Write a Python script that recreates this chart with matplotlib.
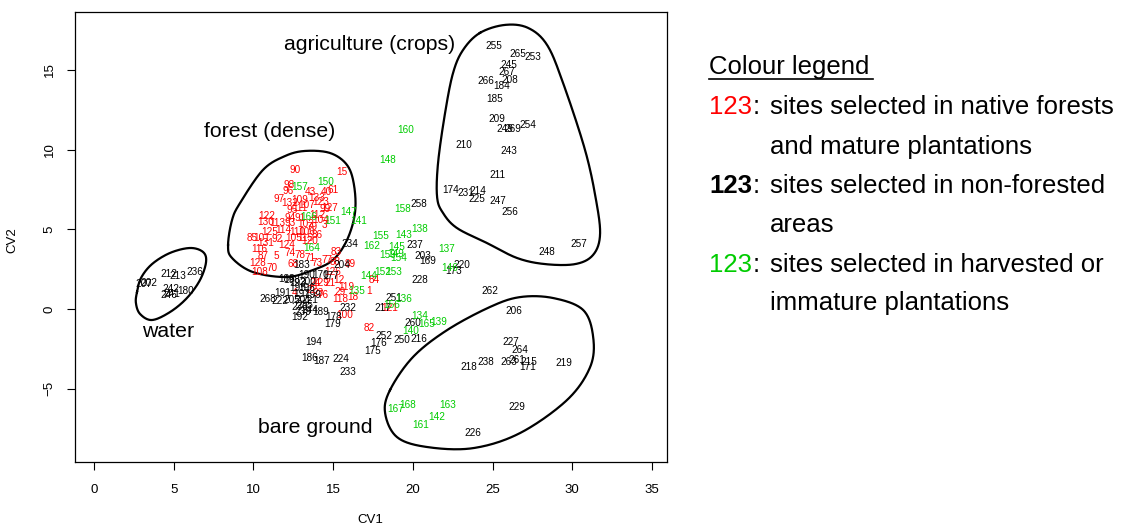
import numpy as np
import matplotlib
matplotlib.use("Agg")
from matplotlib import pyplot as plt
from matplotlib.lines import Line2D

plt.rcParams["font.family"] = ["Liberation Sans", "DejaVu Sans"]

# site labels and canonical variate scores
# red: native forests and mature plantations
red_lab = ["90", "15", "98", "96", "40", "61", "97", "43", "109", "133", "132", "107", "123",
           "127", "99", "95", "111", "122", "94", "91", "112", "104", "130", "113", "93", "102",
           "79", "3", "125", "114", "110", "106", "86", "85", "101", "92", "105", "115", "120",
           "116", "131", "124", "87", "5", "74", "78", "71", "128", "70", "108", "68", "73", "77",
           "83", "88", "89", "126", "12", "119", "18", "1", "118", "84", "100", "82", "24", "129",
           "21", "22", "23", "76", "29", "4", "121"]
red_x = [12.6, 15.55, 12.25, 12.2, 14.6, 15.0, 11.6, 13.55, 12.9, 14.0, 12.3, 13.35, 14.2,
         14.8, 14.5, 12.4, 12.9, 10.85, 12.3, 12.9, 14.0, 14.2, 10.75, 11.5, 12.3, 13.25,
         13.7, 14.45, 11.05, 11.85, 12.75, 13.35, 14.0, 9.95, 10.55, 11.5, 12.5, 13.25, 13.55,
         10.35, 10.75, 12.1, 10.6, 11.45, 12.3, 12.9, 13.55, 10.25, 11.15, 10.4, 12.5, 14.0, 14.6,
         15.2, 15.1, 16.05, 14.95, 15.35, 15.85, 16.25, 17.25, 15.45, 17.6, 15.7, 17.25, 13.85, 14.2,
         14.8, 13.7, 14.05, 14.35, 15.45, 12.55, 18.55]
red_y = [8.75, 8.6, 7.8, 7.4, 7.35, 7.5, 6.9, 7.35, 6.85, 6.95, 6.65, 6.55, 6.7,
         6.35, 6.3, 6.2, 6.35, 5.85, 5.7, 5.7, 5.9, 5.6, 5.45, 5.4, 5.4, 5.35,
         5.15, 5.25, 4.85, 4.95, 4.85, 4.85, 4.65, 4.45, 4.45, 4.4, 4.45, 4.45, 4.25,
         3.75, 4.15, 4.0, 3.3, 3.3, 3.5, 3.4, 3.2, 2.9, 2.55, 2.3, 2.8, 2.9, 3.1,
         3.6, 2.95, 2.8, 2.35, 1.85, 1.4, 0.75, 1.1, 0.6, 1.8, -0.35, -1.2, 1.65, 1.65,
         1.65, 1.2, 1.0, 0.9, 1.05, 1.0, 0.05]

# black: non-forested areas
blk_lab = ["255", "265", "253", "245", "267", "208", "266", "184", "185", "209", "249", "269",
           "254", "210", "243", "211", "174", "231", "214", "225", "247", "256", "257", "248",
           "212", "213", "236", "207", "202", "242", "180", "246", "241",
           "258", "234", "237", "203", "169", "220", "173", "228", "204", "262", "251", "217",
           "232", "178", "179", "260", "252", "250", "216", "176", "175", "194", "186", "187",
           "224", "233", "206", "227", "264", "261", "263", "215", "171", "219", "218", "238",
           "229", "226", "188", "193", "200", "190", "170", "177", "195", "196", "191", "197",
           "199", "268", "222", "205", "201", "221", "235", "230", "239", "244", "189", "192",
           "183", "198"]
blk_x = [25.1, 26.6, 27.5, 26.0, 25.9, 26.1, 24.6, 25.6, 25.1, 25.3, 25.8, 26.3,
         27.2, 23.2, 26.05, 25.3, 22.4, 23.3, 24.1, 24.0, 25.3, 26.1, 30.4, 28.4,
         4.7, 5.25, 6.3, 3.1, 3.45, 4.8, 5.75, 4.7, 4.9,
         20.35, 16.05, 20.15, 20.6, 20.95, 23.1, 22.55, 20.45, 15.55, 24.85, 18.8, 18.1,
         15.95, 15.0, 15.0, 20.0, 18.2, 19.3, 20.4, 17.85, 17.5, 13.8, 13.5, 14.3,
         15.5, 15.9, 26.35, 26.15, 26.7, 26.55, 26.05, 27.3, 27.2, 29.45, 23.5, 24.6,
         26.55, 23.75, 12.1, 12.8, 13.4, 13.35, 14.2, 14.85, 12.75, 13.35, 11.85, 13.05,
         13.7, 10.9, 11.65, 12.4, 13.1, 13.55, 13.25, 12.9, 13.1, 13.55, 14.2, 12.9,
         13.05, 12.4]
blk_y = [16.5, 16.0, 15.8, 15.3, 14.9, 14.4, 14.3, 14.0, 13.2, 11.9, 11.3, 11.3,
         11.55, 10.3, 9.9, 8.4, 7.5, 7.3, 7.4, 6.9, 6.8, 6.1, 4.1, 3.6,
         2.2, 2.1, 2.35, 1.55, 1.65, 1.25, 1.1, 0.9, 0.95,
         6.6, 4.05, 4.0, 3.3, 3.0, 2.75, 2.4, 1.8, 2.75, 1.1, 0.7, 0.05,
         0.05, -0.5, -0.95, -0.9, -1.7, -1.95, -1.85, -2.15, -2.65, -2.05, -3.05, -3.25,
         -3.15, -3.95, -0.15, -2.05, -2.6, -3.2, -3.35, -3.3, -3.65, -3.4, -3.65, -3.35,
         -6.15, -7.8, 1.9, 1.65, 1.7, 2.15, 2.15, 2.05, 1.3, 1.3, 1.0, 0.95,
         0.9, 0.65, 0.5, 0.55, 0.55, 0.55, 0.25, 0.1, -0.2, -0.05, -0.2, -0.5,
         2.75, 1.8]

# green: harvested or immature plantations
grn_lab = ["134", "165", "139", "140", "136", "156", "167", "168", "163", "142", "161",
           "158", "147", "141", "151", "138", "155", "143", "162", "145", "137", "159",
           "149", "154", "144", "152", "153", "135", "146", "164", "150", "157", "166",
           "160", "148"]
grn_x = [20.4, 20.85, 21.65, 19.85, 19.45, 18.65, 18.9, 19.7, 22.2, 21.5, 20.5,
         19.35, 16.0, 16.6, 14.95, 20.4, 18.0, 19.45, 17.4, 19.0, 22.1, 18.45,
         18.95, 19.1, 17.2, 18.1, 18.8, 16.5, 22.3, 13.65, 14.55, 12.9, 13.45,
         19.55, 18.4]
grn_y = [-0.45, -0.95, -0.8, -1.35, 0.6, 0.25, -6.3, -6.05, -6.0, -6.75, -7.25,
         6.3, 6.1, 5.55, 5.5, 5.0, 4.6, 4.65, 3.95, 3.9, 3.75, 3.4,
         3.45, 3.2, 2.1, 2.3, 2.3, 1.15, 2.6, 3.85, 8.0, 7.65, 5.8,
         11.25, 9.35]

# hand-drawn group outlines (CV1, CV2)
forest_x = [8.41, 8.66, 9.16, 10.6, 11.98, 13.24, 14.81, 15.87, 16.31, 16.37, 15.87, 14.99,
            13.74, 12.11, 9.97, 8.66]
forest_y = [4.02, 5.59, 6.65, 8.73, 9.6, 9.92, 9.79, 9.04, 7.78, 6.03, 4.33, 3.08,
            2.45, 2.01, 2.32, 3.2]
water_x = [2.7, 2.95, 3.64, 4.77, 6.02, 6.84, 7.03, 6.65, 5.83, 4.77, 3.64, 2.89, 2.63]
water_y = [1.07, 1.95, 2.82, 3.52, 3.83, 3.58, 2.95, 1.82, 0.69, -0.19, -0.69, -0.31, 0.38]
agri_x = [24.21, 23.15, 22.52, 22.02, 21.58, 21.52, 21.89, 22.77, 24.65, 26.54, 28.29, 30.18,
          31.3, 31.74, 31.49, 30.8, 29.42, 28.42, 27.23, 25.78]
agri_y = [17.33, 16.26, 14.81, 12.3, 9.17, 7.03, 6.03, 5.08, 4.14, 3.2, 2.82, 2.82,
          3.39, 4.65, 6.84, 9.98, 14.19, 16.57, 17.64, 17.83]
bare_x = [18.57, 20.01, 22.15, 24.84, 26.73, 28.8, 30.68, 31.31, 31.12, 29.67, 26.73, 23.78,
          20.89, 19.01, 18.26]
bare_y = [-5.08, -3.01, -1.32, 0.13, 0.75, 0.69, -0.06, -1.76, -3.64, -5.71, -7.78, -8.73,
          -8.66, -8.04, -6.53]

groups = [("agriculture (crops)", 17.31, 16.57), ("forest (dense)", 11.04, 11.11),
          ("water", 4.64, -1.44), ("bare ground", 13.86, -7.41)]

RED = "#ff0000"
GREEN = "#00cc00"


def closed_spline(xs, ys, n=30):
    # closed Catmull-Rom curve through the points
    p = np.column_stack([xs, ys])
    m = len(p)
    t = np.linspace(0, 1, n, endpoint=False)[:, None]
    out = []
    for i in range(m):
        p0, p1, p2, p3 = p[i - 1], p[i], p[(i + 1) % m], p[(i + 2) % m]
        out.append(0.5 * (2 * p1 + (-p0 + p2) * t + (2 * p0 - 5 * p1 + 4 * p2 - p3) * t ** 2
                          + (-p0 + 3 * p1 - 3 * p2 + p3) * t ** 3))
    out = np.vstack(out + [out[0][:1]])
    return out[:, 0], out[:, 1]


W, H = 1131, 532
fig = plt.figure(figsize=(W / 100, H / 100), dpi=100)
ax = fig.add_axes([75 / W, 1 - 462 / H, 592 / W, 450 / H])

for lab, xs, ys, col in [(red_lab, red_x, red_y, RED), (blk_lab, blk_x, blk_y, "black"),
                         (grn_lab, grn_x, grn_y, GREEN)]:
    for s, x, y in zip(lab, xs, ys):
        ax.text(x, y, s, color=col, fontsize=7.2, ha="center", va="center")

for xs, ys in [(forest_x, forest_y), (water_x, water_y), (agri_x, agri_y), (bare_x, bare_y)]:
    cx, cy = closed_spline(xs, ys)
    ax.plot(cx, cy, color="black", lw=1.6)

for s, x, y in groups:
    ax.text(x, y, s, fontsize=15.3, ha="center", va="center")

ax.set_xlim(-1.19, 35.94)
ax.set_ylim(-9.6, 18.64)
ax.set_xticks(range(0, 36, 5))
ax.set_yticks([-5, 0, 5, 10, 15])
ax.tick_params(axis="x", length=6, width=0.8, pad=10, labelsize=9.5)
ax.tick_params(axis="y", length=6, width=0.8, pad=8, labelsize=9.5, labelrotation=90)
for lbl in ax.get_yticklabels():
    lbl.set_va("center")
for sp in ax.spines.values():
    sp.set_linewidth(0.9)

fig.text(370 / W, 1 - 520 / H, "CV1", fontsize=9.5, ha="center", va="center")
fig.text(12 / W, 1 - 240 / H, "CV2", fontsize=9.5, ha="center", va="center", rotation=90)

# colour legend
LS = 18.5
fig.text(709 / W, 1 - 67 / H, "Colour legend", fontsize=LS, ha="left", va="center")
fig.add_artist(Line2D([709 / W, 873 / W], [1 - 79 / H, 1 - 79 / H], color="black", lw=1.2))
rows = [("123", RED, "normal", "sites selected in native forests", 107),
        (None, None, None, "and mature plantations", 147),
        ("123", "black", "bold", "sites selected in non-forested", 186),
        (None, None, None, "areas", 225),
        ("123", GREEN, "normal", "sites selected in harvested or", 265),
        (None, None, None, "immature plantations", 303)]
for num, col, wt, txt, y in rows:
    yy = 1 - y / H
    if num:
        fig.text(709 / W, yy, num, color=col, fontweight=wt, fontsize=LS, ha="left", va="center")
        fig.text(753 / W, yy, ":", fontsize=LS, ha="left", va="center")
    fig.text(770 / W, yy, txt, fontsize=LS, ha="left", va="center")

fig.savefig("out.png", dpi=100)
